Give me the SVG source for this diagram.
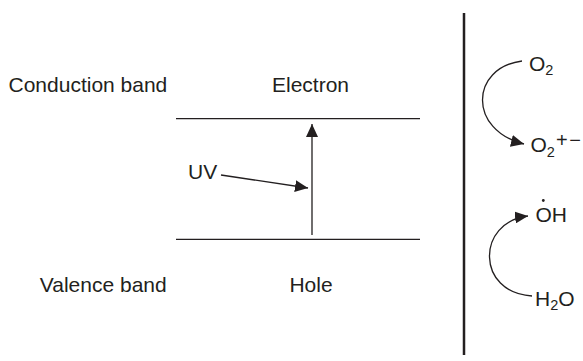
<svg xmlns="http://www.w3.org/2000/svg" width="583" height="361" viewBox="0 0 583 361">
<style>
  text { font-family: "Liberation Sans", Arial, sans-serif; font-size: 21px; fill: #231f20; }
  .sub { font-size: 14.5px; }
  .sup { font-size: 20px; letter-spacing: 1.5px; }
  .ln { stroke: #231f20; stroke-width: 1.3; fill: none; }
</style>
<defs>
  <marker id="ah" markerUnits="userSpaceOnUse" markerWidth="14" markerHeight="12" refX="13" refY="6" orient="auto">
    <path d="M0,0 L13,6 L0,12 Z" fill="#231f20"/>
  </marker>
</defs>
<rect width="583" height="361" fill="#ffffff"/>
<g id="labels">
  <text x="8.5" y="91.5">Conduction band</text>
  <text x="166.7" y="291.5" text-anchor="end">Valence band</text>
  <text x="310.5" y="91.5" text-anchor="middle">Electron</text>
  <text x="311" y="291.5" text-anchor="middle">Hole</text>
  <text x="188" y="179">UV</text>
</g>
<g id="bands">
  <line class="ln" x1="176" y1="118.7" x2="420" y2="118.7"/>
  <line class="ln" x1="176" y1="239.3" x2="420" y2="239.3"/>
  <line x1="464" y1="13" x2="464" y2="355" stroke="#231f20" stroke-width="2.5"/>
</g>
<g id="species">
  <text x="529" y="70.7">O<tspan class="sub" dy="4">2</tspan></text>
  <text x="530.5" y="151.7">O<tspan class="sub" dy="5">2</tspan><tspan class="sup" dy="-10" x="556">+−</tspan></text>
  <text x="535.5" y="221.7">OH</text>
  <circle cx="543.3" cy="200.5" r="1.4" fill="#231f20"/>
  <text x="535" y="305.5">H<tspan class="sub" dy="4">2</tspan><tspan dy="-4">O</tspan></text>
</g>
<g id="connectors">
  <line class="ln" x1="312" y1="235" x2="312" y2="124" marker-end="url(#ah)"/>
  <line class="ln" x1="221" y1="175" x2="308" y2="188" marker-end="url(#ah)"/>
  <path class="ln" d="M522,61 C470,68 468,130 524,144" marker-end="url(#ah)"/>
  <path class="ln" d="M532,296 C476,293 476,222 528,216" marker-end="url(#ah)"/>
</g>
</svg>
